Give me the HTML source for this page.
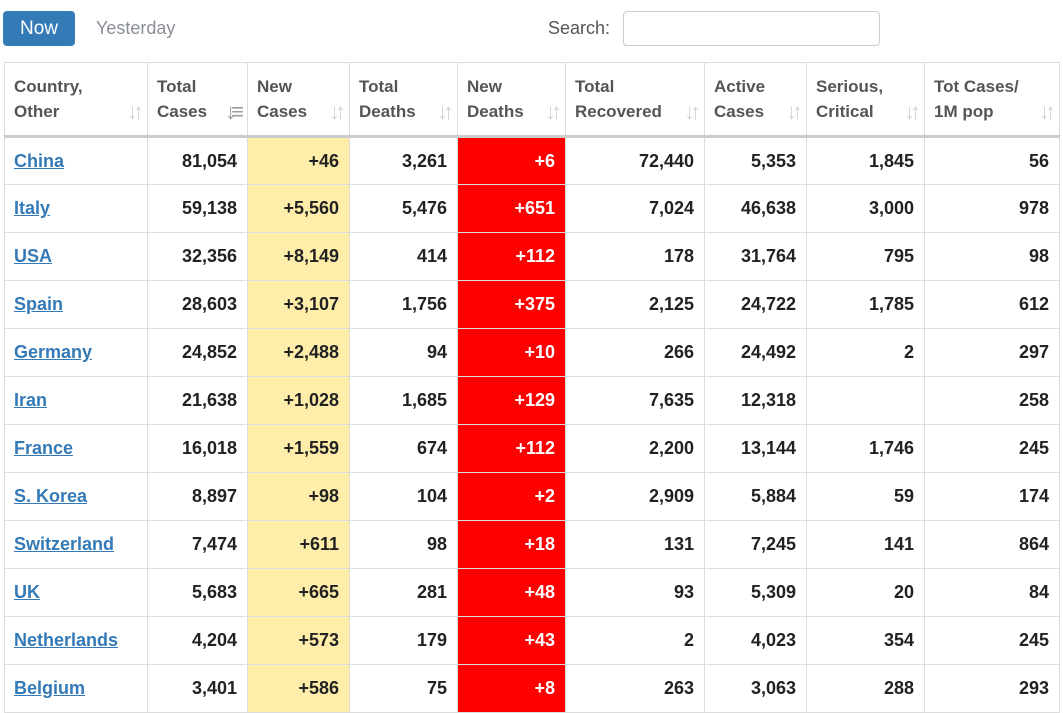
<!DOCTYPE html>
<html><head><meta charset="utf-8"><style>
body{margin:0;width:1063px;height:712px;overflow:hidden;background:#fff;font-family:"Liberation Sans",Arial,sans-serif;}
.btn{position:absolute;left:3px;top:11px;width:72px;height:35px;background:#337ab7;color:#fff;border-radius:4px;font-size:19px;line-height:35px;text-align:center;}
.yest{position:absolute;left:96px;top:11px;line-height:35px;font-size:18px;color:#8a8f96;}
.slabel{position:absolute;left:548px;top:11px;line-height:35px;font-size:18px;color:#555;}
.sinput{position:absolute;left:623px;top:11px;width:257px;height:35px;border:1px solid #ccc;border-radius:4px;box-sizing:border-box;}
table{position:absolute;left:4px;top:62px;border-collapse:collapse;table-layout:fixed;}
td,th{border:1px solid #ddd;box-sizing:border-box;padding:0 10px 0 9px;}
th{height:74px;text-align:left;vertical-align:middle;font-size:17px;color:#555;line-height:25px;position:relative;border-bottom:3px solid #ccc;}
th .s{position:absolute;right:8px;bottom:12px;color:#d4d4d4;font-size:22px;font-weight:bold;letter-spacing:-5px;line-height:22px;}
td{height:48px;text-align:right;font-size:18px;font-weight:bold;color:#222;}
td:first-child{text-align:left;}
td a{color:#337ab7;text-decoration:underline;}
td.nc{background:#ffeeaa;}
td.nd{background:#ff0000;color:#fff;}
</style></head><body>
<div class="btn">Now</div>
<div class="yest">Yesterday</div>
<div class="slabel">Search:</div>
<div class="sinput"></div>
<table>
<colgroup><col style="width:143px"><col style="width:100px"><col style="width:102px"><col style="width:108px"><col style="width:108px"><col style="width:139px"><col style="width:102px"><col style="width:118px"><col style="width:135px"></colgroup>
<thead><tr>
<th>Country,<br>Other<span class="s">↓↑</span></th>
<th>Total<br>Cases<span class="s" style="color:#999">↓≡</span></th>
<th>New<br>Cases<span class="s">↓↑</span></th>
<th>Total<br>Deaths<span class="s">↓↑</span></th>
<th>New<br>Deaths<span class="s">↓↑</span></th>
<th>Total<br>Recovered<span class="s">↓↑</span></th>
<th>Active<br>Cases<span class="s">↓↑</span></th>
<th>Serious,<br>Critical<span class="s">↓↑</span></th>
<th>Tot Cases/<br>1M pop<span class="s">↓↑</span></th>
</tr></thead>
<tbody id="tb"></tbody></table>
<script>
const countries=["China","Italy","USA","Spain","Germany","Iran","France","S. Korea","Switzerland","UK","Netherlands","Belgium"];
const totalCases=["81,054","59,138","32,356","28,603","24,852","21,638","16,018","8,897","7,474","5,683","4,204","3,401"];
const newCases=["+46","+5,560","+8,149","+3,107","+2,488","+1,028","+1,559","+98","+611","+665","+573","+586"];
const totalDeaths=["3,261","5,476","414","1,756","94","1,685","674","104","98","281","179","75"];
const newDeaths=["+6","+651","+112","+375","+10","+129","+112","+2","+18","+48","+43","+8"];
const recovered=["72,440","7,024","178","2,125","266","7,635","2,200","2,909","131","93","2","263"];
const active=["5,353","46,638","31,764","24,722","24,492","12,318","13,144","5,884","7,245","5,309","4,023","3,063"];
const serious=["1,845","3,000","795","1,785","2","","1,746","59","141","20","354","288"];
const perMillion=["56","978","98","612","297","258","245","174","864","84","245","293"];
const tb=document.getElementById('tb');
countries.forEach((c,i)=>{
const tr=document.createElement('tr');


const cells=[[c,''],[totalCases[i],''],[newCases[i],'nc'],[totalDeaths[i],''],[newDeaths[i],'nd'],[recovered[i],''],[active[i],''],[serious[i],''],[perMillion[i],'']];
cells.forEach((v,j)=>{
const td=document.createElement('td');


if(v[1])td.className=v[1];
if(j===0){const a=document.createElement('a');


a.textContent=v[0];td.appendChild(a);}
else td.textContent=v[0];
tr.appendChild(td);});
tb.appendChild(tr);});
</script>
</body></html>
